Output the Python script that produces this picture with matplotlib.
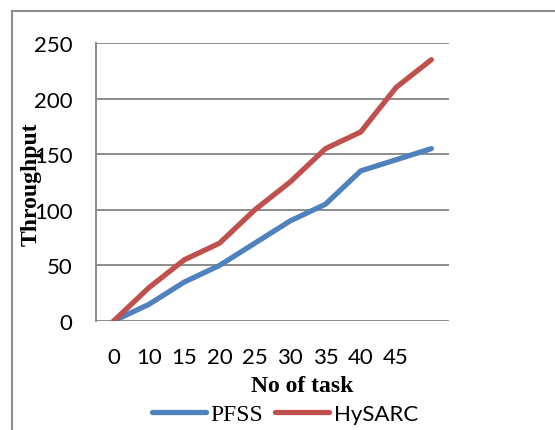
import matplotlib
matplotlib.use("Agg")
import matplotlib.pyplot as plt
from matplotlib.lines import Line2D

# data
categories = ["0", "10", "15", "20", "25", "30", "35", "40", "45", ""]
pfss = [0, 15, 35, 50, 70, 90, 105, 135, 145, 155]
hysarc = [0, 30, 55, 70, 100, 125, 155, 170, 210, 235]
y_ticks = [0, 50, 100, 150, 200, 250]

W, H = 555, 431
fig = plt.figure(figsize=(W / 100, H / 100), dpi=100)
ax = fig.add_axes([96 / W, 1 - 322 / H, (449 - 96) / W, (322 - 44) / H])

x = list(range(len(categories)))
blue = "#4F81BD"
red = "#C0504D"
grid = "#8C8C8C"

ax.plot(x, pfss, color=blue, lw=3.8, solid_capstyle="round", solid_joinstyle="round", label="PFSS", zorder=3)
ax.plot(x, hysarc, color=red, lw=3.8, solid_capstyle="round", solid_joinstyle="round", label="HySARC", zorder=3)

ax.set_xlim(-0.5, len(categories) - 0.5)
ax.set_ylim(0, 250)
ax.set_yticks(y_ticks)
ax.set_xticks(x[:-1])
ax.set_xticklabels(categories[:-1])

for yv in y_ticks:
    ax.axhline(yv, color=grid, lw=1.4, zorder=1)

for s in ["top", "right", "bottom"]:
    ax.spines[s].set_visible(False)
ax.spines["left"].set_color(grid)
ax.spines["left"].set_linewidth(1.4)

ax.tick_params(axis="both", length=0, labelsize=16)
ax.tick_params(axis="y", pad=17)
ax.tick_params(axis="x", pad=19)
for lab in ax.get_xticklabels() + ax.get_yticklabels():
    lab.set_fontfamily("Lato")

fig.text(31 / W, 1 - 184 / H, "Throughput", rotation=90, ha="center", va="center",
         fontfamily="Liberation Serif", fontweight="bold", fontsize=17)
fig.text(302 / W, 1 - 387 / H, "No of task", ha="center", va="center",
         fontfamily="Liberation Serif", fontweight="bold", fontsize=17)

leg = fig.legend(loc="center", bbox_to_anchor=(285 / W, 1 - 415 / H), ncol=2, frameon=False,
                 handlelength=2.3, handletextpad=0.2, columnspacing=0.5, fontsize=17)
texts = leg.get_texts()
texts[0].set_fontfamily("Liberation Serif")
texts[1].set_fontfamily("Lato")
texts[1].set_fontsize(16)

# outer chart border (runs off the right and bottom edge)
fig.add_artist(Line2D([12 / W, 12 / W], [1 - 12 / H, 0], color="#8C8C8C", lw=1.5))
fig.add_artist(Line2D([12 / W, 1], [1 - 12 / H, 1 - 12 / H], color="#8C8C8C", lw=1.5))

fig.savefig("out.png", dpi=100)
